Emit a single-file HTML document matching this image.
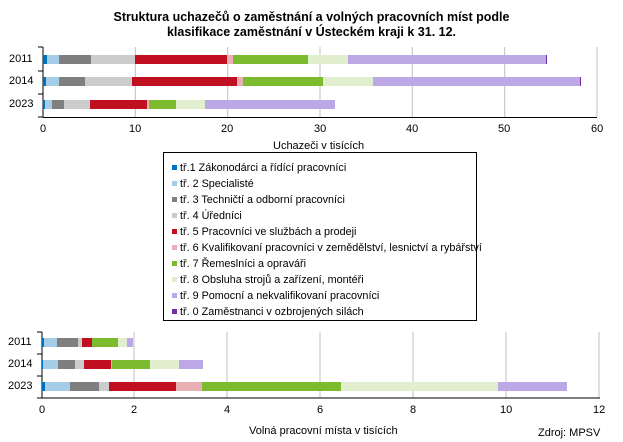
<!DOCTYPE html><html><head><meta charset="utf-8"><style>
body{margin:0;width:623px;height:442px;background:#fff;font-family:"Liberation Sans",sans-serif;position:relative;overflow:hidden}
.a{position:absolute}
.t{font-size:11px;color:#000}
.s{position:absolute;height:9px}
.lg span{display:inline-block;width:5px;height:5px;margin-right:3px;vertical-align:1px}
</style></head><body>
<div class="a" style="left:0;width:623px;top:10px;text-align:center;font-weight:bold;font-size:12.5px;line-height:15px">Struktura uchazečů o zaměstnání a volných pracovních míst podle<br>klasifikace zaměstnání v Ústeckém kraji k 31. 12.</div>
<svg class="a" style="left:0;top:0" width="623" height="442">
<g stroke="#c0c0c0"><line x1="135.3" y1="47" x2="135.3" y2="117"/><line x1="227.7" y1="47" x2="227.7" y2="117"/><line x1="320" y1="47" x2="320" y2="117"/><line x1="412.3" y1="47" x2="412.3" y2="117"/><line x1="504.7" y1="47" x2="504.7" y2="117"/><line x1="597" y1="47" x2="597" y2="117"/>
<line x1="134" y1="332" x2="134" y2="398"/><line x1="227" y1="332" x2="227" y2="398"/><line x1="320" y1="332" x2="320" y2="398"/><line x1="413" y1="332" x2="413" y2="398"/><line x1="506" y1="332" x2="506" y2="398"/><line x1="599" y1="332" x2="599" y2="398"/></g>
<g stroke="#000"><line x1="43" y1="47" x2="43" y2="117"/><line x1="38" y1="117" x2="43" y2="117"/><line x1="38" y1="47" x2="43" y2="47"/><line x1="38" y1="71" x2="43" y2="71"/><line x1="38" y1="94" x2="43" y2="94"/>
<line x1="42" y1="332" x2="42" y2="398"/><line x1="37" y1="398" x2="42" y2="398"/><line x1="37" y1="332" x2="42" y2="332"/><line x1="37" y1="354" x2="42" y2="354"/><line x1="37" y1="376" x2="42" y2="376"/>
<line x1="42" y1="398" x2="600" y2="398"/></g>
<line x1="43" y1="117.5" x2="597" y2="117.5" stroke="#000"/>
<rect x="163.5" y="152.5" width="313" height="168" fill="none" stroke="#000"/>
</svg>
<div class="a" style="top:55px;left:0">
<div class="s" style="left:43px;width:4px;background:#0070c0"></div><div class="s" style="left:47px;width:12px;background:#a6cde8"></div><div class="s" style="left:59px;width:32px;background:#7f7f7f"></div><div class="s" style="left:91px;width:44px;background:#cccccc"></div><div class="s" style="left:135px;width:92px;background:#c00f20"></div><div class="s" style="left:227px;width:6px;background:#e6b0b4"></div><div class="s" style="left:233px;width:75px;background:#7cba2e"></div><div class="s" style="left:308px;width:40px;background:#e1efcf"></div><div class="s" style="left:348px;width:198px;background:#bca8e4"></div><div class="s" style="left:546px;width:1px;background:#7030a0"></div></div>
<div class="a" style="top:77px;left:0">
<div class="s" style="left:43px;width:3px;background:#0070c0"></div><div class="s" style="left:46px;width:13px;background:#a6cde8"></div><div class="s" style="left:59px;width:26px;background:#7f7f7f"></div><div class="s" style="left:85px;width:47px;background:#cccccc"></div><div class="s" style="left:132px;width:105px;background:#c00f20"></div><div class="s" style="left:237px;width:6px;background:#e6b0b4"></div><div class="s" style="left:243px;width:80px;background:#7cba2e"></div><div class="s" style="left:323px;width:50px;background:#e1efcf"></div><div class="s" style="left:373px;width:207px;background:#bca8e4"></div><div class="s" style="left:580px;width:1px;background:#7030a0"></div></div>
<div class="a" style="top:100px;left:0">
<div class="s" style="left:43px;width:2px;background:#0070c0"></div><div class="s" style="left:45px;width:7px;background:#a6cde8"></div><div class="s" style="left:52px;width:12px;background:#7f7f7f"></div><div class="s" style="left:64px;width:26px;background:#cccccc"></div><div class="s" style="left:90px;width:57px;background:#c00f20"></div><div class="s" style="left:147px;width:2px;background:#e6b0b4"></div><div class="s" style="left:149px;width:27px;background:#7cba2e"></div><div class="s" style="left:176px;width:29px;background:#e1efcf"></div><div class="s" style="left:205px;width:130px;background:#bca8e4"></div></div>
<div class="a" style="top:338px;left:0">
<div class="s" style="left:42px;width:2px;background:#0070c0"></div><div class="s" style="left:44px;width:13px;background:#a6cde8"></div><div class="s" style="left:57px;width:21px;background:#7f7f7f"></div><div class="s" style="left:78px;width:4px;background:#cccccc"></div><div class="s" style="left:82px;width:10px;background:#c00f20"></div><div class="s" style="left:92px;width:26px;background:#7cba2e"></div><div class="s" style="left:118px;width:9px;background:#e1efcf"></div><div class="s" style="left:127px;width:6px;background:#bca8e4"></div></div>
<div class="a" style="top:360px;left:0">
<div class="s" style="left:42px;width:1px;background:#0070c0"></div><div class="s" style="left:43px;width:15px;background:#a6cde8"></div><div class="s" style="left:58px;width:17px;background:#7f7f7f"></div><div class="s" style="left:75px;width:9px;background:#cccccc"></div><div class="s" style="left:84px;width:27px;background:#c00f20"></div><div class="s" style="left:111px;width:1px;background:#e6b0b4"></div><div class="s" style="left:112px;width:38px;background:#7cba2e"></div><div class="s" style="left:150px;width:29px;background:#e1efcf"></div><div class="s" style="left:179px;width:24px;background:#bca8e4"></div></div>
<div class="a" style="top:382px;left:0">
<div class="s" style="left:42px;width:3px;background:#0070c0"></div><div class="s" style="left:45px;width:25px;background:#a6cde8"></div><div class="s" style="left:70px;width:29px;background:#7f7f7f"></div><div class="s" style="left:99px;width:10px;background:#cccccc"></div><div class="s" style="left:109px;width:67px;background:#c00f20"></div><div class="s" style="left:176px;width:26px;background:#e6b0b4"></div><div class="s" style="left:202px;width:139px;background:#7cba2e"></div><div class="s" style="left:341px;width:157px;background:#e1efcf"></div><div class="s" style="left:498px;width:69px;background:#bca8e4"></div></div>
<div class="a t" style="left:9px;top:53px">2011</div><div class="a t" style="left:9px;top:75px">2014</div><div class="a t" style="left:9px;top:98px">2023</div>
<div class="a t" style="left:8px;top:336px">2011</div><div class="a t" style="left:8px;top:358px">2014</div><div class="a t" style="left:8px;top:380px">2023</div>
<div class="a t" style="left:40px;top:123px">0</div><div class="a t" style="left:129px;top:123px">10</div><div class="a t" style="left:221px;top:123px">20</div><div class="a t" style="left:314px;top:123px">30</div><div class="a t" style="left:406px;top:123px">40</div><div class="a t" style="left:498px;top:123px">50</div><div class="a t" style="left:591px;top:123px">60</div>
<div class="a t" style="left:273px;top:140px">Uchazeči v tisících</div>
<div class="a t" style="left:39px;top:404px">0</div><div class="a t" style="left:131px;top:404px">2</div><div class="a t" style="left:224px;top:404px">4</div><div class="a t" style="left:317px;top:404px">6</div><div class="a t" style="left:410px;top:404px">8</div><div class="a t" style="left:500px;top:404px">10</div><div class="a t" style="left:593px;top:404px">12</div>
<div class="a t" style="left:249px;top:425px">Volná pracovní místa  v tisících</div>
<div class="a t" style="left:538px;top:427px">Zdroj: MPSV</div>
<div class="a t lg" style="left:172px;top:160px;line-height:16px;font-size:10.8px;white-space:nowrap">
<div><span style="background:#0070c0"></span>tř.1  Zákonodárci a řídící pracovníci</div>
<div><span style="background:#a6cde8"></span>tř. 2  Specialisté</div>
<div><span style="background:#7f7f7f"></span>tř. 3  Techničtí a odborní pracovníci</div>
<div><span style="background:#cccccc"></span>tř. 4  Úředníci</div>
<div><span style="background:#c00f20"></span>tř. 5  Pracovníci ve službách a prodeji</div>
<div><span style="background:#e6b0b4"></span>tř. 6  Kvalifikovaní pracovníci v zemědělství, lesnictví a rybářství</div>
<div><span style="background:#7cba2e"></span>tř. 7  Řemeslníci a opraváři</div>
<div><span style="background:#e1efcf"></span>tř. 8  Obsluha strojů a zařízení, montéři</div>
<div><span style="background:#bca8e4"></span>tř. 9  Pomocní a nekvalifikovaní pracovníci</div>
<div><span style="background:#7030a0"></span>tř. 0  Zaměstnanci v ozbrojených silách</div>
</div>
</body></html>
